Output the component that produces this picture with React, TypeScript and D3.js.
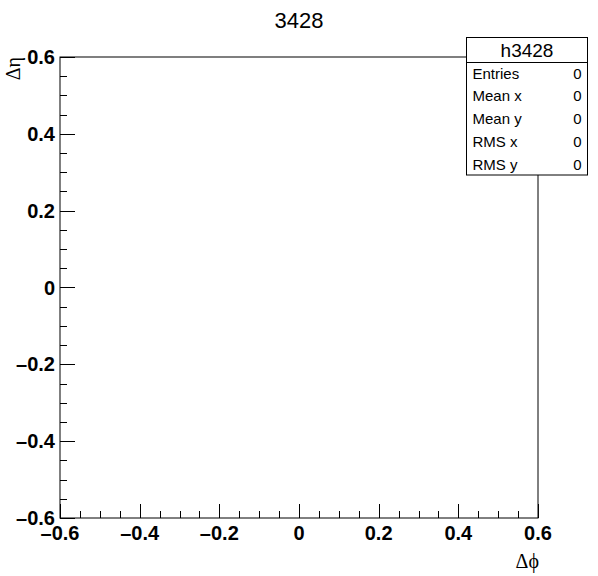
import React from 'react';
import { scaleLinear, range } from 'd3';

const title = '3428';
const xDomain = [-0.6, 0.6];
const yDomain = [-0.6, 0.6];
const majorTicks = [-0.6, -0.4, -0.2, 0, 0.2, 0.4, 0.6];
const xTitle = 'Δϕ';
const yTitle = 'Δη';
const statsName = 'h3428';
const statLabels = ['Entries', 'Mean x', 'Mean y', 'RMS x', 'RMS y'];
const statValues = [0, 0, 0, 0, 0];

const W = 598;
const H = 576;
const frame = { left: 60, right: 538, top: 57, bottom: 518 };

function fmt(v: number) {
  if (Math.abs(v) < 1e-9) return '0';
  const s = Math.abs(v).toFixed(1);
  return v < 0 ? '\u2013' + s : s;
}

function App() {
  const x = scaleLinear().domain(xDomain).range([frame.left, frame.right]);
  const y = scaleLinear().domain(yDomain).range([frame.bottom, frame.top]);
  // minor ticks every 0.05
  const minor = range(0, 25).map(i => -0.6 + i * 0.05);

  const sans = 'Liberation Sans, Arial, Helvetica, sans-serif';
  const serif = 'Liberation Serif, Times New Roman, serif';
  const box = { x: 466.5, y: 37.5, w: 121, h: 137.5, head: 25 };
  const rowH = 22.8;

  return (
    <svg width={W} height={H} style={{ position: 'absolute', left: 0, top: 0, background: '#fff' }}>
      <rect x={0} y={0} width={W} height={H} fill="#fff" />
      <text x={299} y={28} textAnchor="middle" fontFamily={sans} fontSize={22} fill="#000">{title}</text>

      <rect x={frame.left} y={frame.top} width={frame.right - frame.left} height={frame.bottom - frame.top}
        fill="none" stroke="#000" strokeWidth={1} />

      {/* x axis ticks */}
      {minor.map((v, i) => {
        const major = i % 4 === 0;
        const px = Math.round(x(v)) + 0.5;
        return <line key={'xt' + i} x1={px} x2={px} y1={frame.bottom} y2={frame.bottom - (major ? 14 : 7)} stroke="#000" />;
      })}
      {majorTicks.map(v => (
        <text key={'xl' + v} x={x(v)} y={540} textAnchor="middle" fontFamily={sans} fontWeight="bold" fontSize={20} fill="#000">{fmt(v)}</text>
      ))}

      {/* y axis ticks */}
      {minor.map((v, i) => {
        const major = i % 4 === 0;
        const py = Math.round(y(v)) + 0.5;
        return <line key={'yt' + i} x1={frame.left} x2={frame.left + (major ? 15 : 7)} y1={py} y2={py} stroke="#000" />;
      })}
      {majorTicks.map(v => (
        <text key={'yl' + v} x={55} y={y(v) + 7} textAnchor="end" fontFamily={sans} fontWeight="bold" fontSize={20} fill="#000">{fmt(v)}</text>
      ))}

      <text x={539} y={568} textAnchor="end" fontFamily={serif} fontSize={20} fill="#000">{xTitle}</text>
      <text transform={`translate(20,${frame.top}) rotate(-90)`} textAnchor="end" fontFamily={serif} fontSize={20} fill="#000">{yTitle}</text>

      {/* stats box */}
      <rect x={box.x} y={box.y} width={box.w} height={box.h} fill="#fff" stroke="#000" />
      <line x1={box.x} x2={box.x + box.w} y1={box.y + box.head} y2={box.y + box.head} stroke="#000" />
      <text x={box.x + box.w / 2} y={box.y + 19} textAnchor="middle" fontFamily={sans} fontSize={19} fill="#000">{statsName}</text>
      {statLabels.map((l, i) => (
        <g key={l}>
          <text x={box.x + 6} y={box.y + box.head + 16 + i * rowH} fontFamily={sans} fontSize={15} fill="#000">{l}</text>
          <text x={box.x + box.w - 6} y={box.y + box.head + 16 + i * rowH} textAnchor="end" fontFamily={sans} fontSize={15} fill="#000">{statValues[i]}</text>
        </g>
      ))}
    </svg>
  );
}

export default App;
